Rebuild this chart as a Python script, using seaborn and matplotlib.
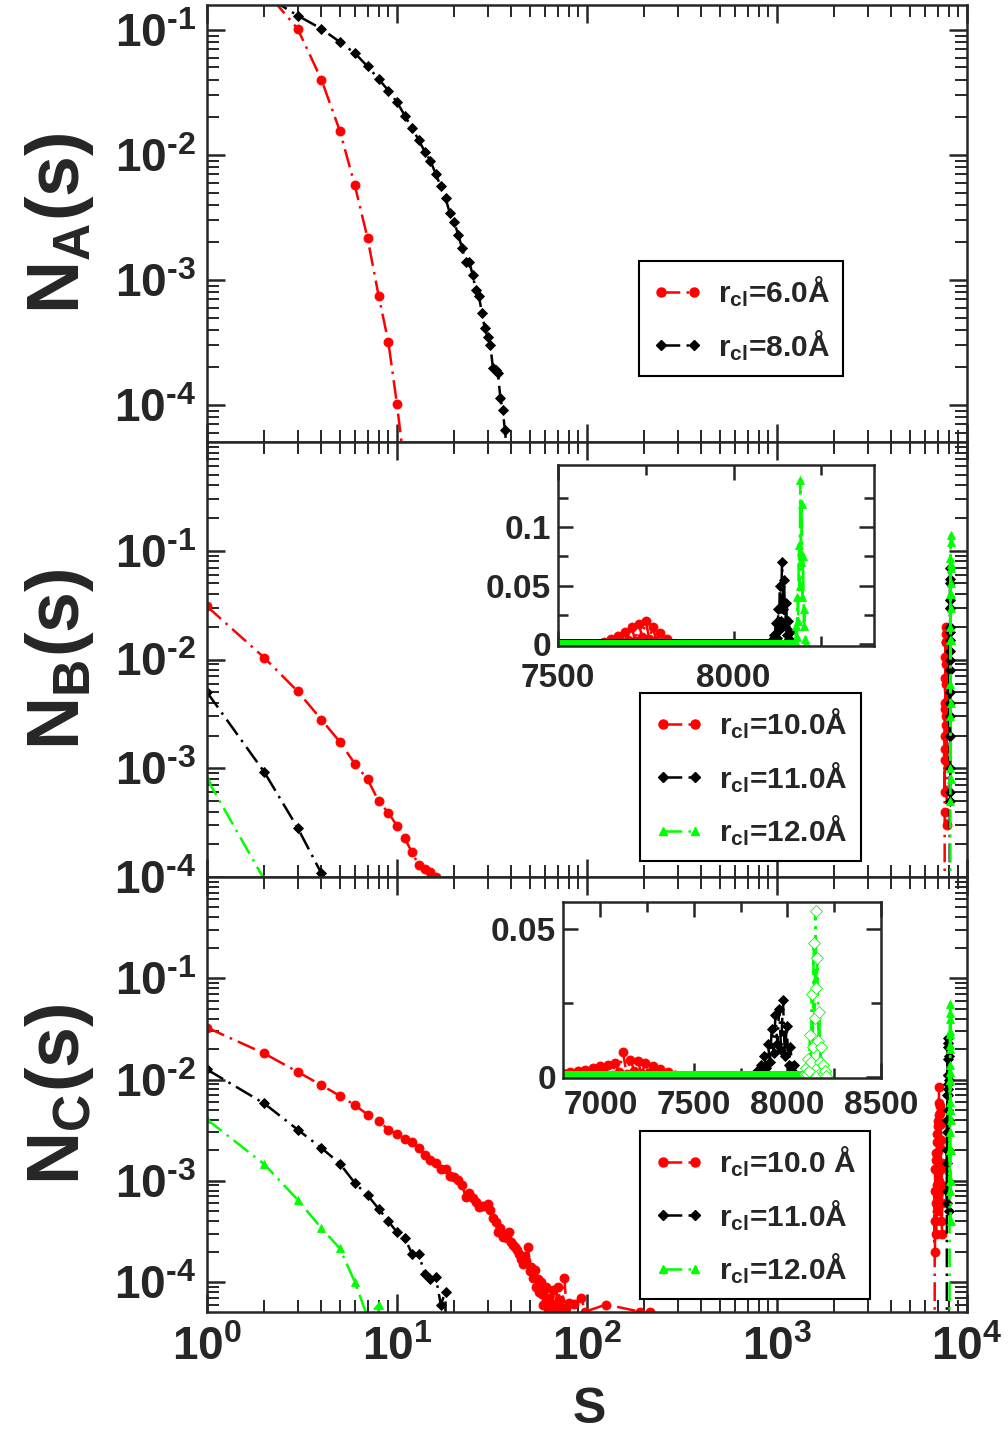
import numpy as np
import pandas as pd
import matplotlib
matplotlib.use("Agg")
import matplotlib.pyplot as plt
import seaborn as sns
from matplotlib.lines import Line2D
from matplotlib.ticker import (FixedLocator, LogLocator, NullFormatter,
                               FuncFormatter)

# ----- data: panel A (small s only) ---------------------------------------
A_S_RED = [1, 2, 3, 4, 5, 6, 7, 8, 9, 10, 11]
A_N_RED = [0.45, 0.21, 0.102, 0.040, 0.0156, 0.0057, 0.00216, 7.5e-4,
           3.2e-4, 1.01e-4, 3.0e-5]
A_S_BLK = list(range(1, 39))
A_N_BLK = [0.30, 0.19, 0.13, 0.102, 0.080, 0.065, 0.051, 0.0405, 0.0327,
           0.0264, 0.0206, 0.0163, 0.0132, 0.0106, 0.0090, 0.0070, 0.0056,
           0.0045, 0.0034, 0.0029, 0.0023, 0.0018, 0.0014, 0.0014, 0.0011,
           8.3e-4, 7.4e-4, 5.4e-4, 4.1e-4, 3.5e-4, 3.0e-4, 1.96e-4, 1.9e-4,
           1.8e-4, 1.13e-4, 9.1e-5, 6.3e-5, 4.0e-5]

# ----- data: panel B -------------------------------------------------------
B_S_RED = list(range(1, 18))
B_N_RED = [0.0308, 0.0104, 0.0051, 0.0028, 0.00175, 0.0011, 7.9e-4, 5.0e-4,
           3.9e-4, 2.96e-4, 2.26e-4, 1.68e-4, 1.29e-4, 1.18e-4, 1.10e-4,
           1.0e-4, 6.0e-5]
B_S_BLK = [1, 2, 3, 4, 5]
B_N_BLK = [5.0e-3, 9.25e-4, 2.83e-4, 1.08e-4, 4.0e-5]
B_S_GRN = [1, 2, 3]
B_N_GRN = [8.0e-4, 9.5e-5, 2.0e-5]

BP_S_RED = [7620, 7630, 7640, 7650, 7660, 7670, 7680, 7690, 7700, 7710, 7720,
            7730, 7740, 7750, 7760, 7770, 7780, 7790, 7800, 7810, 7820]
BP_N_RED = [0.0004, 0.0015, 0.0006, 0.004, 0.0012, 0.0068, 0.002, 0.0105,
            0.0035, 0.0145, 0.0025, 0.017, 0.006, 0.020, 0.004, 0.0145,
            0.003, 0.009, 0.0012, 0.004, 0.0003]
BP_S_BLK = [8105, 8108, 8111, 8114, 8117, 8120, 8123, 8126, 8129, 8132, 8135,
            8138, 8141, 8144, 8147, 8150, 8153, 8156, 8159, 8162, 8165, 8168]
BP_N_BLK = [0.0005, 0.003, 0.001, 0.008, 0.002, 0.018, 0.005, 0.03, 0.012,
            0.05, 0.02, 0.07, 0.03, 0.055, 0.015, 0.035, 0.008, 0.02, 0.004,
            0.01, 0.002, 0.0006]
BP_S_GRN = [8172, 8174, 8176, 8178, 8180, 8182, 8184, 8186, 8188, 8190, 8192,
            8194, 8196, 8198, 8200, 8202, 8204, 8206]
BP_N_GRN = [0.0005, 0.003, 0.001, 0.015, 0.006, 0.04, 0.02, 0.085, 0.05,
            0.14, 0.07, 0.12, 0.04, 0.075, 0.015, 0.03, 0.004, 0.0008]

# ----- data: panel C -------------------------------------------------------
C_S_RED = list(range(1, 65)) + [66, 68, 70, 72, 74, 76, 78, 80, 85, 93, 98,
                                126, 190, 214]
C_N_RED = [0.0326, 0.0181, 0.0119, 0.0088, 0.0069, 0.0056, 0.0045, 0.0039,
           0.0032, 0.0029, 0.0026, 0.0024, 0.0021, 0.0018, 0.0016, 0.0015,
           0.0013, 0.0013,
           1.12e-3, 1.09e-3, 1.01e-3, 9.0e-4, 6.9e-4, 7.5e-4, 6.8e-4, 6.2e-4,
           5.5e-4, 5.7e-4, 5.6e-4, 5.9e-4, 5.1e-4, 4.3e-4, 3.9e-4, 3.1e-4,
           3.4e-4, 2.8e-4, 3.0e-4, 2.7e-4, 3.1e-4, 2.5e-4, 2.3e-4, 2.2e-4,
           2.07e-4, 1.9e-4, 1.7e-4, 1.52e-4, 1.8e-4, 1.6e-4, 2.2e-4, 1.3e-4,
           1.41e-4, 1.1e-4, 1.31e-4, 9.0e-5, 1.08e-4, 8.0e-5, 1.0e-4, 7.7e-5,
           6.0e-5, 8.5e-5, 9.0e-5, 5.5e-5, 7.0e-5, 6.4e-5,
           8.3e-5, 5.5e-5, 9.0e-5, 6.6e-5, 5.5e-5, 1.1e-4, 5.5e-5, 6.2e-5,
           6.1e-5, 7.0e-5, 5.1e-5, 6.0e-5, 5.1e-5, 5.1e-5]
C_S_BLK = list(range(1, 19))
C_N_BLK = [0.01256, 0.0058, 0.0032, 0.00211, 0.00148, 9.5e-4, 7.2e-4, 5.3e-4,
           4.0e-4, 3.1e-4, 2.7e-4, 1.9e-4, 1.9e-4, 1.2e-4, 1.08e-4, 1.12e-4,
           6.0e-5, 8.0e-5]
C_S_GRN = [1, 2, 3, 4, 5, 6, 7, 8]
C_N_GRN = [0.00403, 0.00146, 6.5e-4, 3.4e-4, 2.15e-4, 1.0e-4, 4.5e-5, 6.0e-5]

CP_S_RED = [6760, 6780, 6800, 6820, 6840, 6860, 6880, 6900, 6920, 6940, 6960,
            6980, 7000, 7020, 7040, 7060, 7080, 7100, 7120, 7140, 7160, 7180,
            7200, 7220, 7240, 7260, 7280, 7300, 7320, 7340, 7360, 7380, 7400]
CP_N_RED = [0.0008, 0.0002, 0.0013, 0.0004, 0.0016, 0.0006, 0.0019, 0.0003,
            0.0024, 0.0009, 0.0029, 0.0005, 0.0035, 0.0012, 0.0039, 0.0007,
            0.0045, 0.0015, 0.0085, 0.0010, 0.0058, 0.0021, 0.0055, 0.0008,
            0.0047, 0.0013, 0.0036, 0.0004, 0.0025, 0.0009, 0.0015, 0.0003,
            0.0006]
CP_S_BLK = [7826, 7836, 7846, 7856, 7866, 7876, 7886, 7896, 7906, 7916, 7926,
            7936, 7946, 7956, 7966, 7976, 7986, 7996, 8006, 8016, 8026, 8036,
            8046]
CP_N_BLK = [0.0008, 0.002, 0.0006, 0.004, 0.0015, 0.007, 0.003, 0.011, 0.005,
            0.016, 0.008, 0.021, 0.011, 0.023, 0.009, 0.026, 0.007, 0.017,
            0.004, 0.01, 0.002, 0.004, 0.0005]
CP_S_GRN = [8095, 8100, 8105, 8110, 8115, 8120, 8125, 8130, 8135, 8140, 8145,
            8150, 8155, 8160, 8165, 8170, 8175, 8180, 8185, 8190, 8195, 8200,
            8205]
CP_N_GRN = [0.0008, 0.003, 0.001, 0.006, 0.002, 0.014, 0.005, 0.028, 0.01,
            0.045, 0.02, 0.056, 0.03, 0.04, 0.012, 0.022, 0.005, 0.01, 0.002,
            0.004, 0.001, 0.002, 0.0004]

LABELS_A = [r"$r_{cl}$=6.0Å", r"$r_{cl}$=8.0Å"]
LABELS_B = [r"$r_{cl}$=10.0Å", r"$r_{cl}$=11.0Å", r"$r_{cl}$=12.0Å"]
LABELS_C = [r"$r_{cl}$=10.0 Å", r"$r_{cl}$=11.0Å", r"$r_{cl}$=12.0Å"]

# ----- style ---------------------------------------------------------------
sns.set_style("ticks")
plt.rcParams["font.family"] = ["Liberation Sans", "DejaVu Sans"]
plt.rcParams["font.weight"] = "bold"
plt.rcParams["mathtext.fontset"] = "custom"
plt.rcParams["mathtext.rm"] = "Liberation Sans:bold"
plt.rcParams["mathtext.it"] = "Liberation Sans:bold"
plt.rcParams["mathtext.bf"] = "Liberation Sans:bold"
plt.rcParams["mathtext.default"] = "rm"

RED, BLACK, GREEN = "#ff0000", "#000000", "#00ff00"
STYLES = {"red": (RED, "o", 6.5), "blk": (BLACK, "D", 5.0),
          "grn": (GREEN, "^", 6.0)}
LW = 1.8
DASH = (0, (7.5, 2.5, 1, 2.5))


def full_series(s_small, n_small, s_peak=(), n_peak=()):
    s, n = list(s_small), list(n_small)
    if len(s_peak):
        gap = list(range(s_small[-1] + 1, s_peak[0]))
        s += gap + list(s_peak)
        n += [0.0] * len(gap) + list(n_peak)
    return pd.DataFrame({"s": s, "n": n})


def draw(ax, df, key, mfc=None, marker=None):
    color, mk, ms = STYLES[key]
    sns.lineplot(data=df, x="s", y="n", ax=ax, estimator=None, sort=False,
                 color=color, marker=marker or mk, markersize=ms,
                 markerfacecolor=mfc or color, markeredgecolor=color,
                 markeredgewidth=0.6, linewidth=LW, linestyle=DASH)


def pow_label(v, pos):
    e = int(round(np.log10(v)))
    sup = r"\text{-}%d" % -e if e < 0 else "%d" % e
    return r"$10^{%s}$" % sup


def style_main(ax, ylim, xlabels=False):
    ax.set_xscale("log")
    ax.set_yscale("log")
    ax.set_xlim(1, 1e4)
    ax.set_ylim(*ylim)
    ax.xaxis.set_major_locator(FixedLocator([1, 10, 100, 1000, 10000]))
    ax.xaxis.set_minor_locator(LogLocator(base=10, subs=np.arange(2, 10),
                                          numticks=50))
    ax.yaxis.set_major_locator(FixedLocator([1e-4, 1e-3, 1e-2, 1e-1]))
    ax.yaxis.set_minor_locator(LogLocator(base=10, subs=np.arange(2, 10),
                                          numticks=50))
    ax.xaxis.set_major_formatter(FuncFormatter(pow_label))
    ax.yaxis.set_major_formatter(FuncFormatter(pow_label))
    ax.xaxis.set_minor_formatter(NullFormatter())
    ax.yaxis.set_minor_formatter(NullFormatter())
    ax.tick_params(which="both", direction="in", top=True, right=True,
                   labelsize=33, pad=8)
    ax.tick_params(axis="x", pad=10, labelbottom=xlabels)
    ax.tick_params(which="major", length=13, width=1.8)
    ax.tick_params(which="minor", length=8.5, width=1.4)
    for sp in ax.spines.values():
        sp.set_linewidth(1.8)
    ax.set_xlabel("")
    ax.set_ylabel("")


def style_inset(ax, xlim, ylim, xmaj, xmin, ymaj, ymin, xpad=9):
    ax.set_xlim(*xlim)
    ax.set_ylim(*ylim)
    ax.xaxis.set_major_locator(FixedLocator(xmaj))
    ax.xaxis.set_minor_locator(FixedLocator(xmin))
    ax.yaxis.set_major_locator(FixedLocator(ymaj))
    ax.yaxis.set_minor_locator(FixedLocator(ymin))
    ax.xaxis.set_major_formatter(FuncFormatter(lambda v, p: "%d" % v))
    ax.yaxis.set_major_formatter(FuncFormatter(lambda v, p: f"{v:g}"))
    ax.tick_params(which="both", direction="in", top=True, right=True,
                   labelsize=24, pad=5)
    ax.tick_params(axis="x", pad=xpad)
    ax.tick_params(which="major", length=11, width=1.8)
    ax.tick_params(which="minor", length=7, width=1.8)
    for sp in ax.spines.values():
        sp.set_linewidth(1.8)
    ax.set_xlabel("")
    ax.set_ylabel("")


def add_legend(ax, keys, labels, anchor):
    handles = []
    for k in keys:
        color, mk, ms = STYLES[k]
        handles.append(Line2D([], [], color=color, marker=mk, markersize=ms,
                              markerfacecolor=color, markeredgecolor=color,
                              linewidth=LW, linestyle=DASH))
    leg = ax.legend(handles, labels, loc="upper left", bbox_to_anchor=anchor,
                    borderaxespad=0, fancybox=False, framealpha=1,
                    edgecolor="black", fontsize=21.5, numpoints=2,
                    handlelength=1.7, handletextpad=0.5, labelspacing=0.62,
                    borderpad=0.45)
    leg.get_frame().set_linewidth(1.5)


# ----- series tables -------------------------------------------------------
dfA_red = full_series(A_S_RED, A_N_RED)
dfA_blk = full_series(A_S_BLK, A_N_BLK)
dfB_red = full_series(B_S_RED, B_N_RED, BP_S_RED, BP_N_RED)
dfB_blk = full_series(B_S_BLK, B_N_BLK, BP_S_BLK, BP_N_BLK)
dfB_grn = full_series(B_S_GRN, B_N_GRN, BP_S_GRN, BP_N_GRN)
dfC_red = full_series(C_S_RED, C_N_RED, CP_S_RED, CP_N_RED)
dfC_blk = full_series(C_S_BLK, C_N_BLK, CP_S_BLK, CP_N_BLK)
dfC_grn = full_series(C_S_GRN, C_N_GRN, CP_S_GRN, CP_N_GRN)

# ----- figure --------------------------------------------------------------
W, H = 1008, 1435
fig = plt.figure(figsize=(W / 100, H / 100), dpi=100)
L, R = 207, 967
axA = fig.add_axes([L / W, 1 - 442 / H, (R - L) / W, 437 / H])
axB = fig.add_axes([L / W, 1 - 877 / H, (R - L) / W, 435 / H], sharex=axA)
axC = fig.add_axes([L / W, 1 - 1312 / H, (R - L) / W, 435 / H], sharex=axA)

draw(axA, dfA_red, "red")
draw(axA, dfA_blk, "blk")
for ax, dfs in ((axB, (dfB_red, dfB_blk, dfB_grn)),
                (axC, (dfC_red, dfC_blk, dfC_grn))):
    for df, k in zip(dfs, ("red", "blk", "grn")):
        draw(ax, df, k)

style_main(axA, (5.06e-5, 0.158))
style_main(axB, (1e-4, 1.0))
style_main(axC, (5.06e-5, 1.0), xlabels=True)

add_legend(axA, ["red", "blk"], LABELS_A, (0.568, 0.414))
add_legend(axB, ["red", "blk", "grn"], LABELS_B, (0.570, 0.423))
add_legend(axC, ["red", "blk", "grn"], LABELS_C, (0.570, 0.416))

# ----- insets --------------------------------------------------------------
insB = fig.add_axes([558 / W, 1 - 646 / H, 316 / W, 181 / H])
for df, k in zip((dfB_red, dfB_blk, dfB_grn), ("red", "blk", "grn")):
    draw(insB, df, k)
style_inset(insB, (7500, 8400), (-0.0017, 0.153), [7500, 8000],
            [7750, 8250], [0, 0.05, 0.1], [0.025, 0.075, 0.125], xpad=12)

insC = fig.add_axes([563 / W, 1 - 1078 / H, 318 / W, 176 / H])
draw(insC, dfC_red, "red")
draw(insC, dfC_blk, "blk")
draw(insC, dfC_grn, "grn", mfc="white", marker="D")
style_inset(insC, (6800, 8500), (-0.0004, 0.059), [7000, 7500, 8000, 8500],
            [7250, 7750, 8250], [0, 0.05], [0.025])

# ----- labels --------------------------------------------------------------
for lab, yc in ((r"$N_A(s)$", 223), (r"$N_B(s)$", 659), (r"$N_C(s)$", 1094)):
    fig.text(59 / W, 1 - yc / H, lab, rotation=90, ha="center", va="center",
             fontsize=53)
fig.text(589 / W, 1 - 1410 / H, "S", ha="center", va="center", fontsize=36)

fig.savefig("out.png", dpi=100)
